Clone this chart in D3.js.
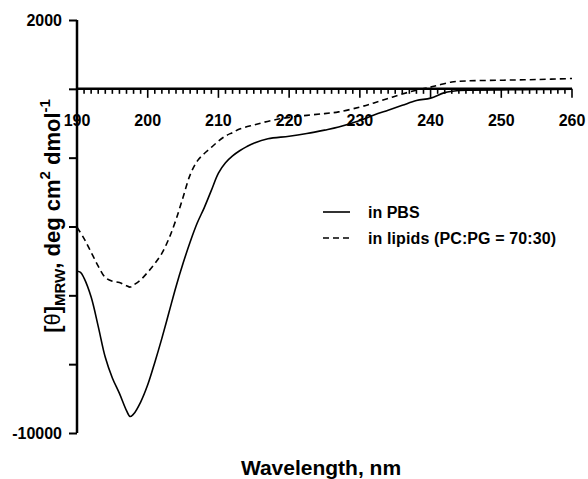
<!DOCTYPE html>
<html>
<head>
<meta charset="utf-8">
<script src="https://cdn.jsdelivr.net/npm/d3@7"></script>
<style>
  body { margin: 0; background: #fff; }
  svg text { font-family: "Liberation Sans", Arial, sans-serif; fill: #000; }
</style>
</head>
<body>
<svg id="chart" width="588" height="479"></svg>
<script>
// CD spectra, mean residue ellipticity vs wavelength
var pbsWave = [190, 190.5, 191, 192, 193, 194, 195, 196, 197, 197.5, 198, 199, 200, 201, 202, 203, 204, 205, 206, 207, 208, 209, 210, 211, 212, 213, 214, 215, 217, 220, 222.5, 225, 227, 230, 232, 234, 236, 238, 240, 242, 244, 246, 250, 255, 260];
var pbsVals = [-5300, -5330, -5500, -6050, -6900, -7800, -8400, -8850, -9350, -9520, -9450, -9100, -8600, -7950, -7250, -6500, -5750, -5070, -4450, -3900, -3450, -2950, -2450, -2150, -1950, -1800, -1680, -1580, -1450, -1380, -1300, -1200, -1110, -920, -760, -620, -480, -340, -270, -110, -50, -40, -30, -20, -10];

var lipWave = [190, 191, 192, 193, 194, 195, 196, 197, 197.5, 198, 199, 200, 201, 202, 203, 204, 205, 206, 207, 208, 209, 210, 211, 212, 213, 215, 217.5, 220, 222.5, 225, 227, 230, 232, 234, 236, 238, 240, 241, 243, 245, 250, 255, 260];
var lipVals = [-4020, -4350, -4750, -5150, -5480, -5590, -5630, -5720, -5760, -5700, -5550, -5330, -5080, -4780, -4350, -3800, -3150, -2500, -2100, -1880, -1700, -1520, -1370, -1270, -1170, -1050, -920, -830, -770, -720, -670, -530, -410, -280, -150, -40, 50, 100, 200, 230, 250, 270, 300];

var xTickLabels = [190, 200, 210, 220, 230, 240, 250, 260];
var yTickLabels = [2000, -10000];
var legendLabels = ["in PBS", "in lipids (PC:PG = 70:30)"];

var svg = d3.select("#chart");

var x = d3.scaleLinear().domain([190, 260]).range([77, 572]);
var y = d3.scaleLinear().domain([-10000, 2000]).range([433, 20]);

var axisW = 2.5;

// y axis (left, ticks every 2000, labels only at ends)
var yAxis = svg.append("g").attr("transform", "translate(" + x(190) + ",0)")
    .call(d3.axisLeft(y).tickValues(d3.range(-10000, 2001, 2000)).tickSize(8)
        .tickFormat(function(d) { return yTickLabels.indexOf(d) != -1 ? d : ""; }));
yAxis.select(".domain").attr("d", "M0," + y(2000) + "V" + y(-10000)).attr("stroke-width", axisW);
yAxis.selectAll(".tick line").attr("stroke-width", 2);
yAxis.selectAll(".tick text").attr("x", -15).attr("font-size", 16).attr("font-weight", "bold");

// x axis at zero: minor ticks each nm, major each 10
var xAxis = svg.append("g").attr("transform", "translate(0," + y(0) + ")");
xAxis.append("line").attr("x1", x(190)).attr("x2", x(260))
    .attr("stroke", "#000").attr("stroke-width", axisW);
xAxis.selectAll("line.tk").data(d3.range(190, 261)).enter().append("line")
    .attr("class", "tk")
    .attr("x1", function(d) { return x(d); }).attr("x2", function(d) { return x(d); })
    .attr("y1", 0).attr("y2", function(d) { return d % 10 == 0 ? 9 : 5; })
    .attr("stroke", "#000").attr("stroke-width", 1.6);
xAxis.selectAll("text").data(xTickLabels).enter().append("text")
    .attr("x", function(d) { return x(d); }).attr("y", 37)
    .attr("text-anchor", "middle").attr("font-size", 16).attr("font-weight", "bold")
    .text(function(d) { return d; });

// curves
var line = d3.line().curve(d3.curveCatmullRom.alpha(0.5));
function pts(w, v) { return w.map(function(d, i) { return [x(d), y(v[i])]; }); }

svg.append("path").attr("d", line(pts(lipWave, lipVals)))
    .attr("fill", "none").attr("stroke", "#000").attr("stroke-width", 1.6)
    .attr("stroke-dasharray", "6,4");
svg.append("path").attr("d", line(pts(pbsWave, pbsVals)))
    .attr("fill", "none").attr("stroke", "#000").attr("stroke-width", 1.6);

// legend
var legend = svg.append("g").attr("transform", "translate(323,212)");
legendLabels.forEach(function(lbl, i) {
    var g = legend.append("g").attr("transform", "translate(0," + i * 26 + ")");
    g.append("line").attr("x1", 0).attr("x2", 27).attr("stroke", "#000").attr("stroke-width", 1.6)
        .attr("stroke-dasharray", i == 1 ? "6,4" : null);
    g.append("text").attr("x", 45).attr("y", 6).attr("font-size", 16).attr("font-weight", "bold")
        .attr("textLength", i == 1 ? 188 : null).text(lbl);
});

// axis titles
svg.append("text").attr("x", 321).attr("y", 475).attr("text-anchor", "middle")
    .attr("font-size", 21).attr("font-weight", "bold").text("Wavelength, nm");

var yt = svg.append("text").attr("transform", "translate(60,216) rotate(-90)")
    .attr("text-anchor", "middle").attr("font-size", 22).attr("font-weight", "bold");
yt.append("tspan").text("[");
yt.append("tspan").attr("font-weight", "normal").text("θ");
yt.append("tspan").text("]");
yt.append("tspan").attr("font-size", 15).attr("dy", 5).text("MRW");
yt.append("tspan").attr("dy", -5).text(", deg cm");
yt.append("tspan").attr("font-size", 15).attr("dy", -10).text("2");
yt.append("tspan").attr("dy", 10).text(" dmol");
yt.append("tspan").attr("font-size", 15).attr("dy", -10).text("-1");
</script>
</body>
</html>
